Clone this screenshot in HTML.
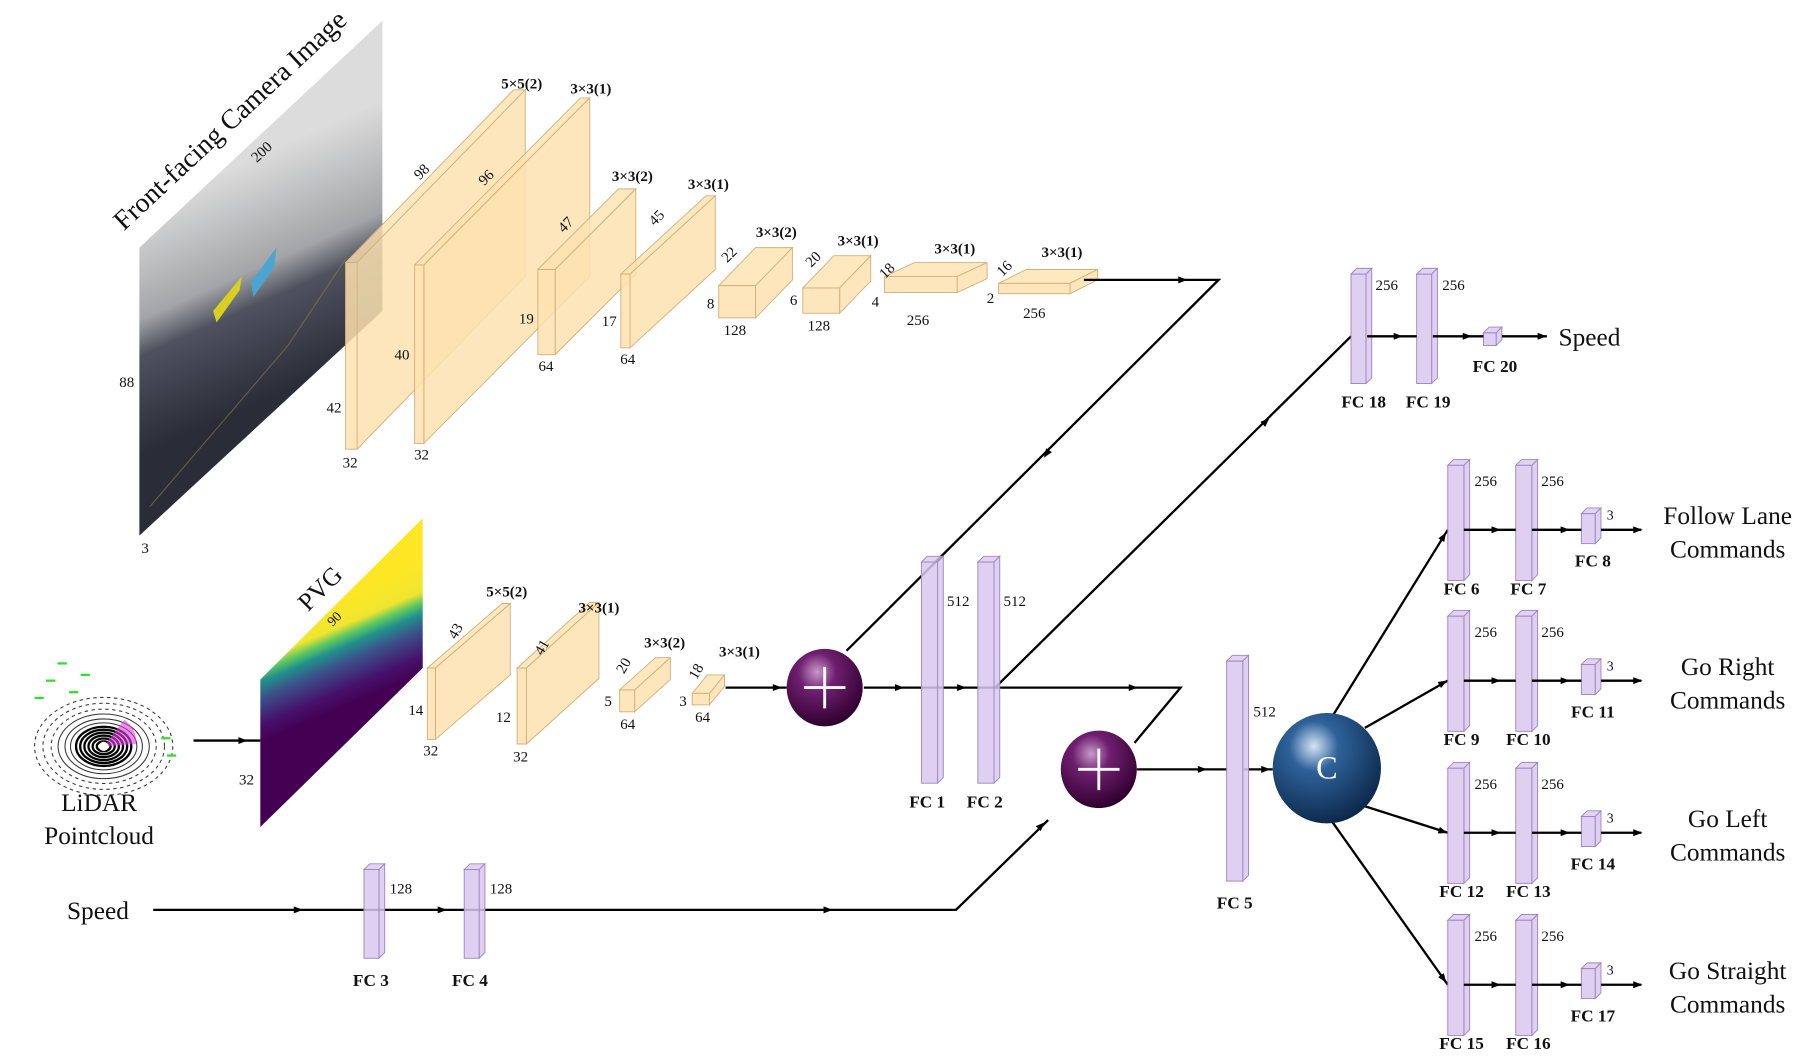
<!DOCTYPE html>
<html><head><meta charset="utf-8"><style>
html,body{margin:0;padding:0;background:#fff;}
svg{display:block;font-family:"Liberation Serif",serif;}
</style></head><body>
<svg id="fig" width="1806" height="1058" viewBox="0 0 1568 918.6" xmlns="http://www.w3.org/2000/svg">
<defs>
<linearGradient id="cam" x1="190" y1="150" x2="270" y2="330" gradientUnits="userSpaceOnUse">
<stop offset="0" stop-color="#dcdcdc"/><stop offset="0.45" stop-color="#a4a5a8"/><stop offset="0.6" stop-color="#4f525e"/><stop offset="1" stop-color="#2a2c38"/></linearGradient>
<linearGradient id="pvg" x1="296" y1="520" x2="330" y2="600" gradientUnits="userSpaceOnUse">
<stop offset="0" stop-color="#fde725"/><stop offset="0.25" stop-color="#f0e530"/><stop offset="0.35" stop-color="#5ec962"/><stop offset="0.45" stop-color="#21918c"/><stop offset="0.6" stop-color="#3b528b"/><stop offset="0.85" stop-color="#46106a"/><stop offset="1" stop-color="#440154"/></linearGradient>
<radialGradient id="plus" cx="0.4" cy="0.3" r="0.7"><stop offset="0" stop-color="#c79ac7"/><stop offset="0.35" stop-color="#6f1f6f"/><stop offset="1" stop-color="#300030"/></radialGradient>
<radialGradient id="cball" cx="0.38" cy="0.3" r="0.75"><stop offset="0" stop-color="#d4e4f4"/><stop offset="0.3" stop-color="#2e629a"/><stop offset="1" stop-color="#0a2546"/></radialGradient>
</defs>
<g id="layers"></g>
</svg>
<script>
const NS="http://www.w3.org/2000/svg";
const root=document.getElementById('layers');
function el(tag,attrs,parent){const e=document.createElementNS(NS,tag);for(const k in attrs)e.setAttribute(k,attrs[k]);(parent||root).appendChild(e);return e;}
function txt(x,y,s,size,opts){opts=opts||{};const t=el('text',{x:x,y:y,'font-size':size,'text-anchor':opts.anchor||'middle','font-weight':opts.bold?'bold':'normal',fill:'#111'});if(opts.rot)t.setAttribute('transform','rotate('+opts.rot+' '+x+' '+y+')');t.textContent=s;


return t;}
function box(x,y,w,h,dx,dy,fill,stroke,name){const g=el('g',{});


el('polygon',{points:`${x},${y} ${x+dx},${y+dy} ${x+w+dx},${y+dy} ${x+w},${y}`,fill:fill,stroke:stroke,'stroke-width':0.8,'fill-opacity':0.8},g);
el('polygon',{points:`${x+w},${y} ${x+w+dx},${y+dy} ${x+w+dx},${y+h+dy} ${x+w},${y+h}`,fill:fill,stroke:stroke,'stroke-width':0.8,'fill-opacity':0.85},g);
el('rect',{x:x,y:y,width:w,height:h,fill:fill,stroke:stroke,'stroke-width':0.8,'fill-opacity':0.85},g);return g;}
function line(pts,arrowMid,name){const p=el('polyline',{points:pts.map(q=>q.join(',')).join(' '),fill:'none',stroke:'#000','stroke-width':2});


return p;}
function arrowAt(x,y,ang){el('path',{d:'M-5,-3 L3,0 L-5,3 z',fill:'#000',transform:`translate(${x},${y}) rotate(${ang})`});}

// Camera image
const cam=el('polygon',{points:'121,215 332,18 332,270 121,465',fill:'url(#cam)'});


el('polyline',{points:'130,440 250,300 300,225',fill:'none',stroke:'#8a7a50','stroke-width':1,'stroke-opacity':0.6});
el('polygon',{points:'185,270 210,240 208,252 188,280',fill:'#d8d020'});
el('polygon',{points:'218,245 240,215 238,232 220,258',fill:'#4aa6d0'});
txt(205,110,'Front-facing Camera Image',24,{rot:-43,name:'camera-title'});
txt(230,135,'200',13,{rot:-43,name:'cam-width'});txt(110,336,'88',13,{name:'cam-height'});txt(126,480,'3',13,{name:'cam-depth'});

// Camera conv blocks
const camConvX=[300,360,467,539,624,697,768,867];
const camConvY=[228,230,234,238,248,250,240,246];
const camConvW=[10,8,15,8,32,32,63,62];
const camConvH=[162,155,74,64,28,22,14,9];
const camConvDX=[146,144,70,74,32,27,26,24];
const camConvDY=[-150,-145,-70,-68,-33,-28,-12,-12];
const camKernel=['5×5(2)','3×3(1)','3×3(2)','3×3(1)','3×3(2)','3×3(1)','3×3(1)','3×3(1)'];
const camKX=[453,513,549,615,674,745,829,922],camKY=[77,81,157,164,206,213,220,223];
const camDepth=['98','96','47','45','22','20','18','16'];
const camDX=[369,425,494,573,636,709,773,875],camDY=[152,157,198,192,224,228,238,236];
const camH=['42','40','19','17','8','6','4','2'];
const camHX=[290,349,457,529,617,689,760,860],camHY=[358,312,281,283,268,265,266,263];
const camW=['32','32','64','64','128','128','256','256'];
const camWX=[304,366,474,545,638,711,797,898],camWY=[406,399,322,316,291,287,282,276];
for(let i=0;i<camConvX.length;i++){
 box(camConvX[i],camConvY[i],camConvW[i],camConvH[i],camConvDX[i],camConvDY[i],'#fde2b0','#d4b07a','cam-conv-'+(i+1));
 txt(camKX[i],camKY[i],camKernel[i],13,{bold:true,name:'cam-kernel-label'});
 txt(camDX[i],camDY[i],camDepth[i],13,{rot:-45,name:'cam-depth-label'});
 txt(camHX[i],camHY[i],camH[i],13,{name:'cam-height-label'});
 txt(camWX[i],camWY[i],camW[i],13,{name:'cam-width-label'});
}
line([[941,243],[1058,243],[735,565]],0,'camera-to-fusion-line');arrowAt(1028,243,0);arrowAt(908,395,124);

// LiDAR
const lid=el('g',{});
const ringR=[5,8,11,14,17,20,24,28,33,38,44,50];
ringR.forEach((r,i)=>el('ellipse',{cx:90,cy:648,rx:r*1.2,ry:r*0.85,fill:'none',stroke:i<6?'#000':'#333','stroke-width':i<6?2:0.9,'stroke-dasharray':i>8?'3,3':'none'},lid));
el('path',{d:'M90,648 L108,625 A28,24 0 0 1 118,646 z',fill:'#e040e0','fill-opacity':0.6},lid);
el('circle',{cx:90,cy:648,r:4,fill:'#fff'},lid);
[[40,590],[60,600],[30,605],[70,585],[140,640],[145,655],[50,575]].forEach(p=>el('rect',{x:p[0],y:p[1],width:8,height:2,fill:'#30e030'},lid));
txt(86,704,'LiDAR',22,{name:'lidar-label'});txt(86,733,'Pointcloud',22,{name:'lidar-label-2'});
line([[168,643],[226,643]],0,'lidar-to-pvg-line');arrowAt(212,643,0);

// PVG
const pv=el('polygon',{points:'226,590 367,450 367,580 226,718',fill:'url(#pvg)'});

txt(283,516,'PVG',22,{rot:-45,name:'pvg-title'});txt(293,540,'90',12,{rot:-45,name:'pvg-width'});txt(214,681,'32',13,{name:'pvg-height'});

const pvgConvX=[371,449,538,601],pvgConvY=[580,580,599,602],pvgConvW=[7,8,13,15],pvgConvH=[62,66,19,10];
const pvgConvDX=[65,63,31,13],pvgConvDY=[-56,-57,-28,-16];
const pvgKernel=['5×5(2)','3×3(1)','3×3(2)','3×3(1)'];
const pvgKX=[440,520,577,642],pvgKY=[518,532,562,570];
const pvgDepth=['43','41','20','18'],pvgDXp=[399,474,545,608],pvgDYp=[550,564,580,585];
const pvgH=['14','12','5','3'],pvgHX=[361,437,528,593],pvgHY=[621,627,613,613];
const pvgW=['32','32','64','64'],pvgWX=[374,452,545,610],pvgWY=[656,661,633,627];
for(let i=0;i<4;i++){
 box(pvgConvX[i],pvgConvY[i],pvgConvW[i],pvgConvH[i],pvgConvDX[i],pvgConvDY[i],'#fde2b0','#d4b07a','pvg-conv-'+(i+1));
 txt(pvgKX[i],pvgKY[i],pvgKernel[i],13,{bold:true,name:'pvg-kernel-label'});
 txt(pvgDXp[i],pvgDYp[i],pvgDepth[i],13,{rot:-60,name:'pvg-depth-label'});
 txt(pvgHX[i],pvgHY[i],pvgH[i],13,{name:'pvg-height-label'});
 txt(pvgWX[i],pvgWY[i],pvgW[i],13,{name:'pvg-width-label'});
}
line([[630,597],[683,597]],0,'pvg-to-fusion-line');arrowAt(676,597,0);

function node(cx,cy,r,fill,name,label){const g=el('g',{});
el('ellipse',{cx:cx,cy:cy,rx:r,ry:r*1.02,fill:fill},g);
if(label){const t=el('text',{x:cx,y:cy+9,'font-size':28,'text-anchor':'middle',fill:'#fff'},g);t.textContent=label;}
else{el('path',{d:`M${cx-18},${cy} H${cx+18} M${cx},${cy-18} V${cy+18}`,stroke:'#fff','stroke-width':2.5},g);}
return g;}
line([[750,597],[864,597],[1025,597],[985,645]],0,'fusion1-to-fusion2-line');arrowAt(782,597,0);arrowAt(836,597,0);arrowAt(985,597,0);
line([[864,597],[1173,292]],0,'fc2-to-fc18-line');arrowAt(1100,365,-44);
line([[133,790],[830,790],[910,712]],0,'speed-input-line');arrowAt(260,790,0);arrowAt(385,790,0);arrowAt(720,790,0);arrowAt(905,716,-44);
line([[987,668],[1065,668]],0,'fusion2-to-fc5-line');arrowAt(1045,668,0);
line([[1080,668],[1105,668]],0,'fc5-to-concat-line');arrowAt(1100,668,0);
node(716,597,33,'url(#plus)','fusion-add-1');
node(954,668,33,'url(#plus)','fusion-add-2');

const fcName=['FC 1','FC 2','FC 3','FC 4','FC 5','FC 18','FC 19','FC 20'];
const fcX=[800,849,316,403,1065,1173,1230,1288],fcY=[488,488,755,755,574,238,238,289],fcW=[14,14,13,13,14,13,13,11],fcH=[192,192,77,77,191,95,95,11];
const fcUnits=['512','512','128','128','512','256','256',''];
const fcUX=[832,881,348,435,1098,1204,1262,0],fcUY=[526,526,776,776,622,252,252,0];
const fcLX=[805,855,322,408,1072,1184,1240,1298],fcLY=[701,701,856,856,789,354,354,323];
for(let i=0;i<fcName.length;i++){
 box(fcX[i],fcY[i],fcW[i],fcH[i],5,-5,'#d9c8ee','#9d86c0',fcName[i].toLowerCase().replace(' ','')+'-layer');
 if(fcUnits[i])txt(fcUX[i],fcUY[i],fcUnits[i],13,{name:'fc-units-label'});
 txt(fcLX[i],fcLY[i],fcName[i],15,{bold:true,name:'fc-name-label'});
}
line([[1187,292],[1230,292]],0,'fc18-fc19-line');arrowAt(1215,292,0);
line([[1244,292],[1288,292]],0,'fc19-fc20-line');arrowAt(1275,292,0);
line([[1304,292],[1343,292]],0,'fc20-output-line');arrowAt(1340,292,0);
txt(1380,300,'Speed',22,{name:'speed-output-label'});
txt(85,798,'Speed',22,{name:'speed-input-label'});

const branchName=['Follow Lane','Go Right','Go Left','Go Straight'];
const branchY=[460,591,723,855];
const branchFC=[['FC 6','FC 7','FC 8'],['FC 9','FC 10','FC 11'],['FC 12','FC 13','FC 14'],['FC 15','FC 16','FC 17']];
const cStart=[[1158,620],[1185,632],[1185,700],[1157,714]];
for(let b=0;b<4;b++){
 const cy=branchY[b];
 line([cStart[b],[1257,cy]],0,'concat-to-branch-'+(b+1));
 const ang=Math.atan2(cy-cStart[b][1],1257-cStart[b][0])*180/Math.PI;arrowAt(1254,cy-(cy-cStart[b][1])*0.03,ang);
 box(1257,cy-56,14,100,5,-5,'#d9c8ee','#9d86c0','branch-fc-a');
 box(1316,cy-56,14,100,5,-5,'#d9c8ee','#9d86c0','branch-fc-b');
 box(1373,cy-14,12,26,5,-5,'#d9c8ee','#9d86c0','branch-fc-out');
 line([[1271,cy],[1316,cy]],0,'branch-line');arrowAt(1300,cy,0);
 line([[1330,cy],[1373,cy]],0,'branch-line');arrowAt(1360,cy,0);
 line([[1390,cy],[1425,cy]],0,'branch-output-line');arrowAt(1423,cy,0);
 txt(1290,cy-38,'256',13,{name:'fc-units-label'});txt(1348,cy-38,'256',13,{name:'fc-units-label'});txt(1398,cy-9,'3',12,{name:'fc-units-label'});
 txt(1269,cy+56,branchFC[b][0],15,{bold:true,name:'fc-name-label'});
 txt(1327,cy+56,branchFC[b][1],15,{bold:true,name:'fc-name-label'});
 txt(1383,cy+32,branchFC[b][2],15,{bold:true,name:'fc-name-label'});
 txt(1500,cy-5,branchName[b],22,{name:'branch-output-label'});
 txt(1500,cy+24,'Commands',22,{name:'branch-output-label'});
}
node(1152,667,47,'url(#cball)','concat-node','C');
</script>
</body></html>
